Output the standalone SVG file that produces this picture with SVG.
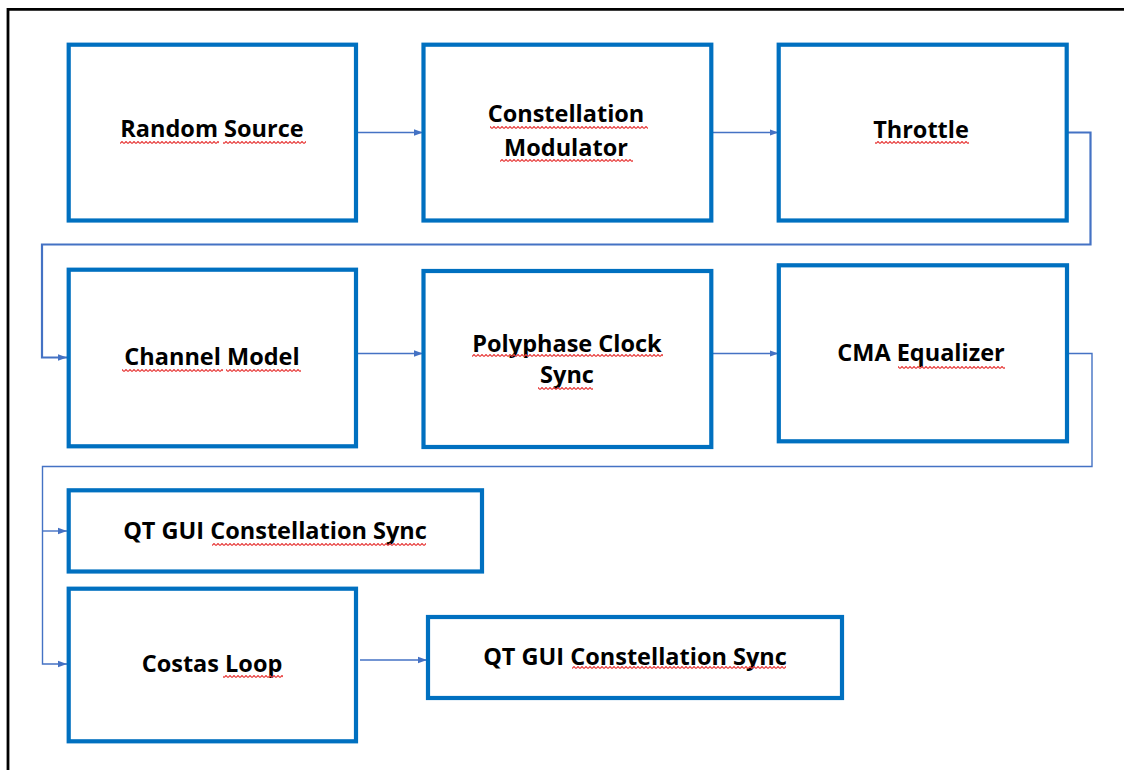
<svg xmlns="http://www.w3.org/2000/svg" width="1124" height="770" viewBox="0 0 1124 770">
<style>
.box{fill:#fff;stroke:#0070C0;stroke-width:4.2}
.lbl{font-family:"Open Sans",Lato,"Liberation Sans",sans-serif;font-weight:700;font-size:23.5px;fill:#000;text-anchor:middle;font-variant-ligatures:none}
.con{fill:none;stroke:#4472C4;stroke-width:1.4}
.con2{fill:none;stroke:#4472C4;stroke-width:2.2}
.sq{fill:url(#squig)}
</style>
<defs>
<marker id="arr" markerWidth="10" markerHeight="8" refX="9" refY="4" orient="auto" markerUnits="userSpaceOnUse">
<path d="M0,0.8 L9,4 L0,7.2 Z" fill="#4472C4"/>
</marker>
<pattern id="squig" patternUnits="userSpaceOnUse" x="0" y="0" width="4" height="3">
<path d="M0,2.5 L2,0.5 L4,2.5" fill="none" stroke="#E8403F" stroke-width="1.2"/>
</pattern>
</defs>
<rect width="1124" height="770" fill="#fff"/>
<path d="M8,770 V9.3 H1124" fill="none" stroke="#000" stroke-width="2.8"/>

<g id="connectors">
<path class="con" d="M356,132.5 H423" marker-end="url(#arr)"/>
<path class="con" d="M711,132.5 H778.5" marker-end="url(#arr)"/>
<path class="con2" d="M1066.7,132.5 H1090.5 V244.5 H42 V357.5 H67" marker-end="url(#arr)"/>
<path class="con" d="M356,353.5 H423" marker-end="url(#arr)"/>
<path class="con" d="M711,353.5 H778.5" marker-end="url(#arr)"/>
<path class="con" d="M1067,353.5 H1092 V466.5 H42.5 V664 H67" marker-end="url(#arr)"/>
<path class="con" d="M42.5,531 H67" marker-end="url(#arr)"/>
<path class="con" d="M360,660 H427" marker-end="url(#arr)"/>
</g>

<g id="random-source">
<rect class="box" x="68.7" y="44.7" width="287.3" height="175.8"/>
<text class="lbl" x="212" y="137.3">Random Source</text>
</g>
<g id="constellation-modulator">
<rect class="box" x="423.5" y="44.7" width="287.8" height="175.8"/>
<text class="lbl" x="566" y="122.3">Constellation</text>
<text class="lbl" x="566" y="155.7">Modulator</text>
</g>
<g id="throttle">
<rect class="box" x="778.7" y="44.7" width="288" height="175.8"/>
<text class="lbl" x="921" y="138">Throttle</text>
</g>
<g id="channel-model">
<rect class="box" x="68.7" y="269.7" width="287.3" height="176.6"/>
<text class="lbl" x="212" y="365">Channel Model</text>
</g>
<g id="polyphase-clock-sync">
<rect class="box" x="423.5" y="271" width="287.8" height="176"/>
<text class="lbl" x="567" y="351.7">Polyphase Clock</text>
<text class="lbl" x="567" y="383.3">Sync</text>
</g>
<g id="cma-equalizer">
<rect class="box" x="778.8" y="265.3" width="288.2" height="176"/>
<text class="lbl" x="921" y="361">CMA Equalizer</text>
</g>
<g id="qt-gui-constellation-sync-1">
<rect class="box" x="68.7" y="490.3" width="413.3" height="81.2"/>
<text class="lbl" x="275" y="539">QT GUI Constellation Sync</text>
</g>
<g id="costas-loop">
<rect class="box" x="68.7" y="588.7" width="287.3" height="152.6"/>
<text class="lbl" x="212" y="671.7">Costas Loop</text>
</g>
<g id="qt-gui-constellation-sync-2">
<rect class="box" x="428" y="617" width="414" height="81"/>
<text class="lbl" x="635" y="665">QT GUI Constellation Sync</text>
</g>

<g id="spellcheck-marks">
<rect class="sq" x="120" y="141" width="99" height="3"/>
<rect class="sq" x="223" y="141" width="83" height="3"/>
<rect class="sq" x="490" y="126" width="158" height="3"/>
<rect class="sq" x="500" y="159" width="133" height="3"/>
<rect class="sq" x="875" y="141" width="94" height="3"/>
<rect class="sq" x="122" y="369" width="101" height="3"/>
<rect class="sq" x="226" y="369" width="75" height="3"/>
<rect class="sq" x="472" y="354" width="191" height="3"/>
<rect class="sq" x="538" y="387" width="55" height="3"/>
<rect class="sq" x="898" y="366" width="107" height="3"/>
<rect class="sq" x="212" y="543" width="214" height="3"/>
<rect class="sq" x="223" y="675" width="60" height="3"/>
<rect class="sq" x="572" y="666" width="214" height="3"/>
</g>
</svg>
